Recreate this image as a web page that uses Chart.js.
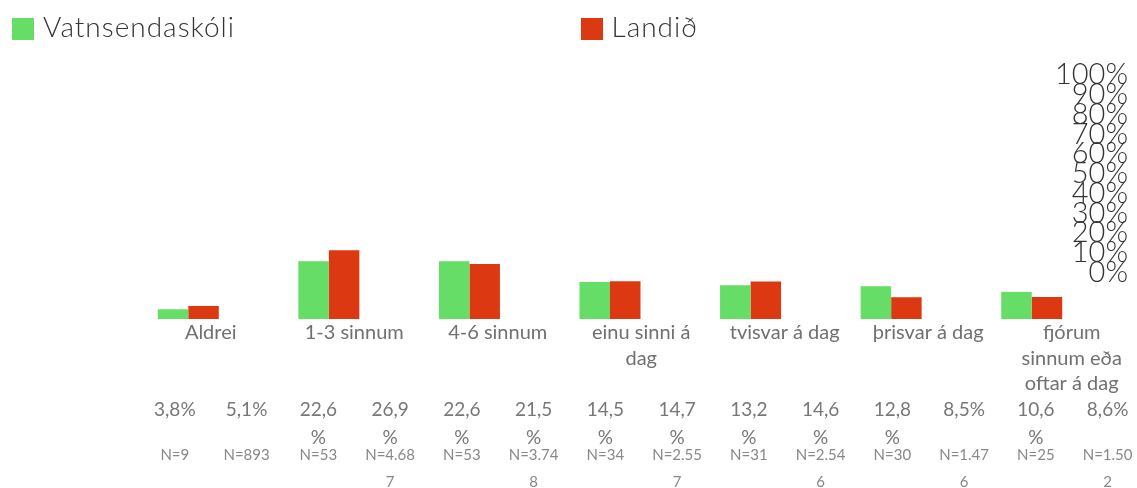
<!DOCTYPE html>
<html><head><meta charset="utf-8">
<script src="https://cdn.jsdelivr.net/npm/chart.js@4.4.1/dist/chart.umd.min.js"></script>
<style>
html,body{margin:0;padding:0;background:#fff;overflow:hidden;}
#wrap{position:relative;width:1137px;height:488px;}
#c{position:absolute;left:0;top:0;}
#legend{position:absolute;left:0;top:0;width:1137px;display:flex;font-family:Lato,sans-serif;font-weight:300;}
.item{width:568.5px;display:flex;align-items:center;padding:12px 0 0 12px;box-sizing:border-box;height:46px}
.sw{width:22px;height:22px;margin-right:9px;flex:none}
.lt{font-size:28px;letter-spacing:1px;color:#333;line-height:22px;white-space:nowrap;position:relative;top:-3px}
</style></head>
<body><div id="wrap"><canvas id="c" width="1137" height="488"></canvas><div id="legend"></div></div>
<script>
const seriesNames = ['Vatnsendaskóli', 'Landið'];
const seriesColors = ['#66DD66', '#DC3912'];
const categories = [['Aldrei'], ['1-3 sinnum'], ['4-6 sinnum'], ['einu sinni á', 'dag'], ['tvisvar á dag'], ['þrisvar á dag'], ['fjórum', 'sinnum eða', 'oftar á dag']];
const schoolValues = [3.8, 22.6, 22.6, 14.5, 13.2, 12.8, 10.6];
const landValues = [5.1, 26.9, 21.5, 14.7, 14.6, 8.5, 8.6];
const schoolN = [9, 53, 53, 34, 31, 30, 25];
const landN = [893, 4687, 3748, 2557, 2546, 1476, 1502];
const yTicks = [0, 10, 20, 30, 40, 50, 60, 70, 80, 90, 100];

const legendEl = document.getElementById('legend');
seriesNames.forEach((n, i) => {
  const it = document.createElement('div'); it.className = 'item';
  const sw = document.createElement('div'); sw.className = 'sw'; sw.style.background = seriesColors[i];
  const t = document.createElement('div'); t.className = 'lt'; t.textContent = n;
  it.appendChild(sw); it.appendChild(t); legendEl.appendChild(it);
});

const fmtPct = v => v.toFixed(1).replace('.', ',') + '%';
const fmtN = n => 'N=' + String(n).replace(/\B(?=(\d{3})+(?!\d))/g, '.');

function wrapChars(ctx, text, maxW) {
  const lines = []; let cur = '';
  for (const ch of text) {
    if (cur && ctx.measureText(cur + ch).width > maxW) { lines.push(cur); cur = ch; }
    else cur += ch;
  }
  if (cur) lines.push(cur);
  return lines;
}

const tablePlugin = {
  id: 'valueTable',
  afterDraw(chart) {
    const ctx = chart.ctx; const xs = chart.scales.x2;
    ctx.save(); ctx.textAlign = 'center'; ctx.textBaseline = 'middle';
    const rows = [
      { font: '19px Lato', color: '#777', y0: 410, lh: 27.5, maxW: 48, vals: [schoolValues.map(fmtPct), landValues.map(fmtPct)] },
      { font: '15px Lato', color: '#888', y0: 455, lh: 27.5, maxW: 54, vals: [schoolN.map(fmtN), landN.map(fmtN)] }
    ];
    rows.forEach(r => {
      ctx.font = r.font; ctx.fillStyle = r.color;
      categories.forEach((c, k) => {
        [-0.25, 0.25].forEach((off, s) => {
          const x = xs.getPixelForValue(k + off);
          wrapChars(ctx, r.vals[s][k], r.maxW).forEach((line, i) => ctx.fillText(line, x, r.y0 + i * r.lh));
        });
      });
    });
    ctx.restore();
  }
};

new Chart(document.getElementById('c'), {
  type: 'bar',
  data: {
    labels: categories.map(c => c.join(' ')),
    datasets: [
      { label: seriesNames[0], data: schoolValues, backgroundColor: seriesColors[0], xAxisID: 'x', yAxisID: 'y' },
      { label: seriesNames[1], data: landValues, backgroundColor: seriesColors[1], xAxisID: 'x', yAxisID: 'y' }
    ]
  },
  options: {
    responsive: false, animation: false, devicePixelRatio: 1,
    layout: { padding: { left: 118, top: 63, right: 0, bottom: 0 } },
    plugins: { legend: { display: false }, tooltip: { enabled: false } },
    datasets: { bar: { categoryPercentage: 0.434, barPercentage: 1, borderWidth: 0 } },
    scales: {
      x: { type: 'category', display: false, grid: { display: false } },
      y: { type: 'linear', display: false, min: 0, max: 100 },
      x2: {
        type: 'linear', position: 'bottom', min: -0.646, max: 6.211, offset: false,
        grid: { display: false, drawTicks: false, offset: false }, border: { display: false },
        afterBuildTicks: s => { s.ticks = categories.map((c, i) => ({ value: i })); },
        afterFit: s => { s.height = 169; },
        ticks: { autoSkip: false, maxRotation: 0, minRotation: 0, padding: 1, color: '#707070',
          font: { family: 'Lato', size: 20, lineHeight: 1.28 }, callback: v => categories[v] }
      },
      y2: {
        type: 'linear', position: 'right', min: -23.5, max: 106.1,
        grid: { display: false, drawTicks: false }, border: { display: false },
        afterBuildTicks: s => { s.ticks = yTicks.map(v => ({ value: v })); },
        afterFit: s => { s.width = 35; },
        ticks: { autoSkip: false, mirror: true, padding: 26, color: '#333',
          font: { family: 'Lato', size: 29, weight: '300' }, callback: v => v + '%' }
      }
    }
  },
  plugins: [tablePlugin]
});
</script>
</body></html>
